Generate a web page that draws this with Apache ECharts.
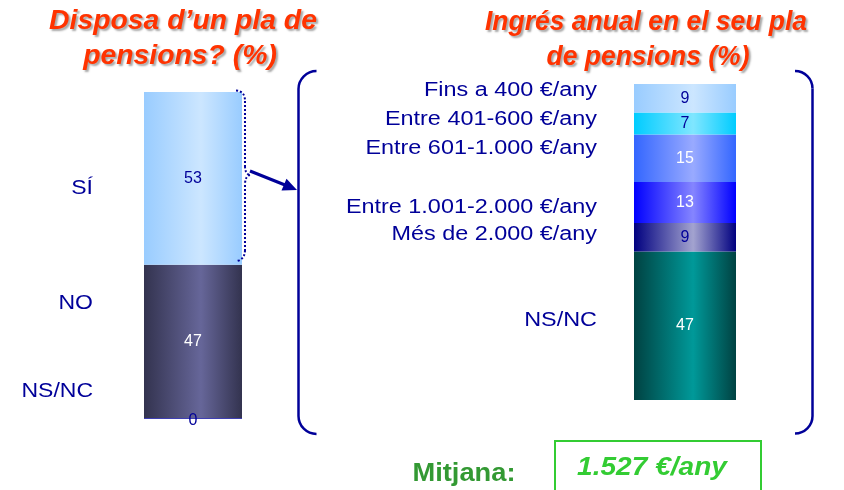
<!DOCTYPE html>
<html>
<head>
<meta charset="utf-8">
<script src="https://cdn.jsdelivr.net/npm/echarts@6/dist/echarts.min.js"></script>
<style>
  html, body { margin: 0; padding: 0; background: #fff; }
  #chart { width: 844px; height: 490px; }
</style>
</head>
<body>
<div id="chart"></div>
<script>
// dades
var leftCats = ['SÍ', 'NO', 'NS/NC'];
var leftValues = [53, 47, 0];
var rightCats = ['Fins a 400 €/any', 'Entre 401-600 €/any', 'Entre 601-1.000 €/any',
                 'Entre 1.001-2.000 €/any', 'Més de 2.000 €/any', 'NS/NC'];
var rightValues = [9, 7, 15, 13, 9, 47];
var leftTitle = ['Disposa d\u2019un pla de', 'pensions? (%)'];
var rightTitle = ['Ingrés anual en el seu pla', 'de pensions (%)'];
var meanLabel = 'Mitjana:';
var meanText = '1.527 €/any';

// estils
var navy = '#000099';
var font = '"Liberation Sans", Arial, sans-serif';
var leftColors = [['#99ccff', '#cce6ff'], ['#33334f', '#666699'], ['#333350', '#666699']];
var leftLabelColors = [navy, '#ffffff', navy];
var rightColors = [['#99ccff', '#cce6ff'], ['#00ccff', '#80e6ff'], ['#3366ff', '#99aaff'],
                   ['#0000ff', '#8585ff'], ['#000080', '#a3a3cf'], ['#004242', '#009999']];
var rightLabelColors = [navy, navy, '#ffffff', '#ffffff', navy, '#ffffff'];
var leftLabelY = [188.5, 303, 391.5];
var rightLabelY = [90.5, 119.7, 148, 207, 234.5, 320];

function grad(c) {
  return new echarts.graphic.LinearGradient(0, 0, 1, 0, [
    {offset: 0, color: c[0]},
    {offset: 0.58, color: c[1]},
    {offset: 1, color: c[0]}
  ]);
}

var series = [];
for (var i = leftCats.length - 1; i >= 0; i--) {
  series.push({
    name: leftCats[i], type: 'bar', stack: 'l', xAxisIndex: 0, yAxisIndex: 0,
    barWidth: '100%', data: [leftValues[i]],
    itemStyle: {color: grad(leftColors[i]), borderColor: leftValues[i] === 0 ? navy : 'transparent', borderWidth: leftValues[i] === 0 ? 1 : 0},
    label: {show: true, position: 'inside', offset: leftValues[i] === 0 ? [0, 3] : [0, 0],
            color: leftLabelColors[i], fontSize: 16, fontFamily: font}
  });
}
for (var j = rightCats.length - 1; j >= 0; j--) {
  series.push({
    name: rightCats[j], type: 'bar', stack: 'r', xAxisIndex: 1, yAxisIndex: 1,
    barWidth: '100%', data: [rightValues[j]],
    itemStyle: {color: grad(rightColors[j])},
    label: {show: true, position: 'inside', color: rightLabelColors[j], fontSize: 16, fontFamily: font}
  });
}

var graphics = [];
// titols
function titleLine(txt, cx, cy, sx) {
  return {type: 'text', x: cx, y: cy, scaleX: sx, style: {
    text: txt, font: 'italic bold 27px ' + font, fill: '#ff3300',
    align: 'center', verticalAlign: 'middle',
    textShadowColor: 'rgba(0,0,0,0.35)', textShadowOffsetX: 2, textShadowOffsetY: 2, textShadowBlur: 2
  }};
}
graphics.push(titleLine(leftTitle[0], 183, 22, 1.05));
graphics.push(titleLine(leftTitle[1], 180, 57, 1.05));
graphics.push(titleLine(rightTitle[0], 646, 23, 0.98));
graphics.push(titleLine(rightTitle[1], 648, 58, 0.98));

// etiquetes de categoria
leftCats.forEach(function (c, k) {
  graphics.push({type: 'text', x: 93, y: leftLabelY[k], scaleX: 1.15, style: {
    text: c, font: '20px ' + font, fill: navy, align: 'right', verticalAlign: 'middle'}});
});
rightCats.forEach(function (c, k) {
  graphics.push({type: 'text', x: 597, y: rightLabelY[k], scaleX: 1.17, style: {
    text: c, font: '20px ' + font, fill: navy, align: 'right', verticalAlign: 'middle'}});
});

// clau puntejada
var dotted = {stroke: navy, fill: 'none', lineWidth: 2, lineDash: [2, 2]};
graphics.push({type: 'bezierCurve', z: 100, shape: {x1: 236, y1: 90.5, cpx1: 245, cpy1: 91, x2: 245, y2: 101}, style: dotted});
graphics.push({type: 'polyline', z: 100, shape: {points: [[245, 101], [245, 166]]}, style: dotted});
graphics.push({type: 'bezierCurve', z: 100, shape: {x1: 245, y1: 166, cpx1: 245, cpy1: 174, x2: 250, y2: 175}, style: dotted});
graphics.push({type: 'bezierCurve', z: 100, shape: {x1: 250, y1: 175, cpx1: 245, cpy1: 176, x2: 245, y2: 185}, style: dotted});
graphics.push({type: 'polyline', z: 100, shape: {points: [[245, 185], [245, 250]]}, style: dotted});
graphics.push({type: 'bezierCurve', z: 100, shape: {x1: 245, y1: 250, cpx1: 245, cpy1: 259, x2: 237, y2: 261}, style: dotted});
// fletxa
graphics.push({type: 'polyline', z: 100, shape: {points: [[250, 171], [285, 185]]},
  style: {stroke: navy, lineWidth: 3}});
graphics.push({type: 'polygon', z: 100, shape: {points: [[297, 190], [281.5, 190.5], [286.5, 178.8]]},
  style: {fill: navy}});
// claudàtors
var brk = {stroke: navy, fill: 'none', lineWidth: 2.5};
graphics.push({type: 'arc', shape: {cx: 316.5, cy: 89, r: 18, startAngle: Math.PI, endAngle: Math.PI * 1.5}, style: brk});
graphics.push({type: 'polyline', shape: {points: [[298.5, 89], [298.5, 416]]}, style: brk});
graphics.push({type: 'arc', shape: {cx: 316.5, cy: 416, r: 18, startAngle: Math.PI * 0.5, endAngle: Math.PI}, style: brk});
graphics.push({type: 'arc', shape: {cx: 795, cy: 88.5, r: 17.5, startAngle: Math.PI * 1.5, endAngle: Math.PI * 2}, style: brk});
graphics.push({type: 'polyline', shape: {points: [[812.5, 88.5], [812.5, 416]]}, style: brk});
graphics.push({type: 'arc', shape: {cx: 795, cy: 416, r: 17.5, startAngle: 0, endAngle: Math.PI * 0.5}, style: brk});
// mitjana
graphics.push({type: 'rect', shape: {x: 555, y: 441, width: 206, height: 60},
  style: {stroke: '#33cc33', fill: 'none', lineWidth: 2}});
graphics.push({type: 'text', x: 652, y: 467.5, scaleX: 1.08, style: {
  text: meanText, font: 'italic bold 26px ' + font, fill: '#33cc33', align: 'center', verticalAlign: 'middle'}});
graphics.push({type: 'text', x: 464, y: 474, scaleX: 1.05, style: {
  text: meanLabel, font: 'bold 26px ' + font, fill: '#339933', align: 'center', verticalAlign: 'middle'}});

var chart = echarts.init(document.getElementById('chart'), null, {renderer: 'canvas'});
chart.setOption({
  animation: false,
  backgroundColor: '#ffffff',
  grid: [
    {left: 144, top: 92, width: 98, height: 326},
    {left: 634, top: 84, width: 102, height: 316}
  ],
  xAxis: [
    {type: 'category', gridIndex: 0, data: [''], show: false},
    {type: 'category', gridIndex: 1, data: [''], show: false}
  ],
  yAxis: [
    {type: 'value', gridIndex: 0, min: 0, max: 100, show: false},
    {type: 'value', gridIndex: 1, min: 0, max: 100, show: false}
  ],
  series: series,
  graphic: graphics
});
</script>
</body>
</html>
